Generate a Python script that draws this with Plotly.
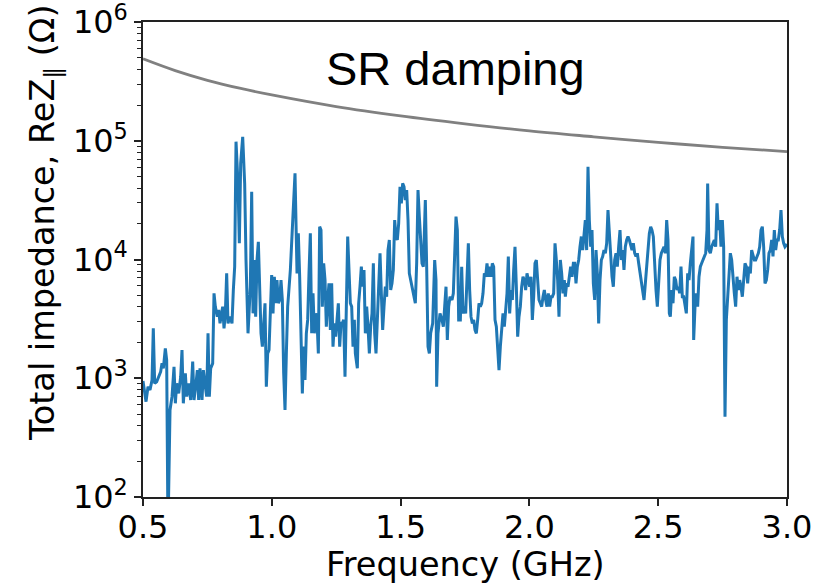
import plotly.graph_objects as go

# Blue curve: total impedance (frequency in GHz, Re Z in Ohm)
freq = [
    0.5, 0.5117, 0.5195, 0.5272, 0.535, 0.540, 0.5453, 0.553, 0.5609, 0.5686, 0.5738, 0.579,
    0.5867, 0.5919, 0.597, 0.6049, 0.6126, 0.6204, 0.6256, 0.6307, 0.6385, 0.6463, 0.6514,
    0.6566, 0.6644, 0.6696, 0.6773, 0.6851, 0.6929, 0.698, 0.7058, 0.711, 0.7161, 0.7213,
    0.7291, 0.7343, 0.742, 0.7472, 0.7524, 0.7575, 0.7627, 0.7705, 0.7757, 0.7808, 0.7886,
    0.7938, 0.799, 0.8041, 0.8093, 0.8145, 0.8197, 0.8248, 0.83, 0.8378, 0.8455, 0.8507,
    0.8559, 0.8611, 0.8688, 0.874, 0.8792, 0.887, 0.8947, 0.8999, 0.9077,
    0.9167, 0.9219, 0.9271, 0.9322, 0.9374, 0.9426, 0.9478, 0.9529, 0.9581, 0.9633, 0.9685,
    0.9736, 0.9788, 0.984, 0.9892, 0.9943, 0.9995, 1.0047, 1.0099, 1.015, 1.0202, 1.0254,
    1.0306, 1.0357, 1.0409, 1.0461, 1.0513, 1.0565, 1.0616, 1.072, 1.0823, 1.0901, 1.0979,
    1.103, 1.1082, 1.1134, 1.1186, 1.1237, 1.1289, 1.1341, 1.1393, 1.1444, 1.1496, 1.1548,
    1.16, 1.1651, 1.1703, 1.1755, 1.1807, 1.1858, 1.191, 1.1962, 1.2014, 1.2066, 1.2117,
    1.2169, 1.2221, 1.2273, 1.2324, 1.2376, 1.2428, 1.248, 1.2531, 1.2583, 1.2635, 1.2687,
    1.2738, 1.279, 1.2842, 1.2894, 1.2946, 1.2997, 1.3049, 1.3101, 1.3153, 1.3204,
    1.3243, 1.3321, 1.3372, 1.3424, 1.3476, 1.3528, 1.3579, 1.3631, 1.3683, 1.3735, 1.3787,
    1.3838, 1.389, 1.3942, 1.3994, 1.4045, 1.4097, 1.4149, 1.4201, 1.4252, 1.4304, 1.4356,
    1.4408, 1.4459, 1.4511, 1.4563, 1.4615, 1.4666, 1.4718, 1.477, 1.4822, 1.4873, 1.4925,
    1.4977, 1.5029, 1.508, 1.5132, 1.5184, 1.5236, 1.5288, 1.5339, 1.5391, 1.5443, 1.5495,
    1.5572, 1.5624, 1.5676, 1.5727, 1.5779, 1.5831, 1.5883, 1.596, 1.6012, 1.6064, 1.6116,
    1.6167, 1.6245, 1.6323, 1.6374, 1.64, 1.6452, 1.653, 1.6607, 1.6659, 1.6711, 1.6763,
    1.6814, 1.6866, 1.6918, 1.6996, 1.7047, 1.7099, 1.7151, 1.7203, 1.7254,
    1.7319, 1.7371, 1.7423, 1.7474, 1.7526, 1.7578, 1.763, 1.7681, 1.7733, 1.7785, 1.7837,
    1.7888, 1.794, 1.7992, 1.8044, 1.8095, 1.8147, 1.8199, 1.8251, 1.8302, 1.8354, 1.8406,
    1.8458, 1.851, 1.8561, 1.8613, 1.8665, 1.8717, 1.8768, 1.882, 1.8872, 1.8924, 1.8975,
    1.9027, 1.9079, 1.9131, 1.9182, 1.9234, 1.9286, 1.9338, 1.9389, 1.9441, 1.9493, 1.9545,
    1.9596, 1.9648, 1.97, 1.9752, 1.9803, 1.9855, 1.9907, 1.9959, 2.001, 2.0062, 2.0114,
    2.0166, 2.0217, 2.0269, 2.0321, 2.0373, 2.0425, 2.0476, 2.0528, 2.058, 2.0632, 2.0683,
    2.0735, 2.0787, 2.0839, 2.089, 2.0942, 2.0994, 2.1046, 2.1097, 2.1149, 2.1201, 2.1253,
    2.1304, 2.1356,
    2.1395, 2.1447, 2.1499, 2.155, 2.1602, 2.1654, 2.1706, 2.1757, 2.1809, 2.1861, 2.1913,
    2.1964, 2.2016, 2.2068, 2.212, 2.2171, 2.2223, 2.2275, 2.2327, 2.2378, 2.243, 2.2482,
    2.2534, 2.2586, 2.2637, 2.2689, 2.2741, 2.2793, 2.2844, 2.2896, 2.2948, 2.3, 2.3051,
    2.3103, 2.3155, 2.3207, 2.3258, 2.331, 2.3362, 2.3414, 2.3465, 2.3517, 2.3569, 2.3621,
    2.3672, 2.3724, 2.3776, 2.3828, 2.3879, 2.3931, 2.3983, 2.4035, 2.4087, 2.4138, 2.419,
    2.4242, 2.4294, 2.4345, 2.4397, 2.4449, 2.4501, 2.4552, 2.4604, 2.4656, 2.4708, 2.4759,
    2.4811, 2.4863, 2.4915, 2.4966, 2.5018, 2.507, 2.5122, 2.5173, 2.5225, 2.5277, 2.5329,
    2.538, 2.5432,
    2.5471, 2.5523, 2.5575, 2.5626, 2.5678, 2.573, 2.5782, 2.5833, 2.5885, 2.5937, 2.5989,
    2.604, 2.6092, 2.6144, 2.6196, 2.6247, 2.6299, 2.6351, 2.6377, 2.6429, 2.648, 2.6532,
    2.6584, 2.6636, 2.6687, 2.6739, 2.6791, 2.6843, 2.6894, 2.692, 2.6972, 2.7024, 2.7076,
    2.7127, 2.7179, 2.7231, 2.7283, 2.7334, 2.7386, 2.7438, 2.749, 2.7541, 2.7567, 2.7593,
    2.7645, 2.7697, 2.7748, 2.78, 2.7852, 2.7904, 2.7955, 2.8007, 2.8059, 2.8111, 2.8163,
    2.8214, 2.8266, 2.8318, 2.837, 2.8421, 2.8473, 2.8525, 2.8577, 2.8628, 2.868, 2.8732,
    2.8784, 2.8835, 2.8887, 2.8939, 2.8991, 2.9042, 2.9094, 2.9146, 2.9198, 2.9249, 2.9301,
    2.9353, 2.9405, 2.9456, 2.9508, 2.956, 2.9612, 2.9663, 2.9715, 2.9767, 2.9819, 2.987,
    2.9922, 2.9974, 3.0,
]
impedance = [
    950, 635, 849, 796, 967, 2630, 906, 935, 1030, 1135, 1335, 1212,
    1785, 1425, 50, 541, 700, 1250, 615, 906, 746, 1030, 1730,
    615, 1100, 700, 906, 656, 1380, 656, 906, 1172, 656, 1212,
    656, 1172, 849, 700, 2390, 700, 1212, 1335, 5190, 4010, 3300,
    3760, 2900, 3300, 4010, 2630, 3520, 7640, 2900, 3300, 2900, 5530,
    8700, 98200, 43700, 13700, 64600, 108000, 43700, 9900, 2390,
    5900, 37200, 3520, 9900, 3300, 9900, 14100, 4280, 2390, 1845, 3100,
    4280, 849, 1620, 1730, 3520, 7400, 3520, 7160, 4280, 6710, 4280,
    4560, 6710, 4560, 1100, 541, 1620, 4010, 8160, 21500, 53200, 7640,
    16600, 7160, 1620, 746, 1845, 967, 2390, 3100, 7640, 16600, 2390,
    5190, 2390, 3520, 3100, 1620, 18900, 17700, 4010, 9290, 6710, 2720,
    4560, 6300, 2550, 6300, 1845, 2900, 2240, 2900, 4280, 1845, 2900,
    2900, 3100, 1030, 5900, 15600, 8160, 4280, 4010, 1845, 3100,
    1620, 1212, 4280, 5900, 8700, 5900, 8160, 2390, 4010, 2720, 1620,
    2720, 3520, 9290, 2390, 1620, 3100, 4560, 11300, 5190, 2550, 4010,
    5900, 4860, 12000, 14600, 5530, 6300, 8160, 21500, 15600, 14600, 20100,
    41000, 29700, 43700, 41000, 31700, 38500, 21500, 7640, 6710, 5900, 5190,
    4280, 9290, 38500, 23000, 12800, 9290, 8700, 31700, 8700, 1845, 1620,
    2390, 2900, 9900, 6710, 849, 2390, 3520, 3100, 2720, 4010, 5900,
    2100, 4010, 4860, 4560, 5190, 11300, 23000, 17700, 3100,
    3100, 8700, 3520, 4010, 3520, 7640, 13700, 5530, 3300, 2900, 3100,
    2550, 2390, 3100, 4280, 4010, 4280, 5190, 7640, 7160, 9290, 7160,
    8700, 7160, 9290, 8700, 3100, 2720, 1845, 1172, 1845, 2720, 3520,
    2720, 3760, 5190, 10600, 3520, 5530, 4560, 8160, 12800, 5900, 2240,
    3300, 4010, 5900, 7160, 6710, 5530, 7640, 6710, 5900, 7160, 3100,
    4860, 9290, 9900, 5900, 4560, 4280, 4010, 4860, 5530, 4560, 4010,
    5190, 4010, 4860, 4860, 5190, 13700, 9900, 6710, 3300, 9900, 7640,
    5190, 6710,
    4860, 6300, 5900, 7160, 8700, 7160, 9290, 9290, 6300, 8700, 9900,
    12800, 15600, 12000, 15600, 21500, 12000, 60500, 21500, 12800, 17700, 6300,
    4560, 12000, 7640, 2900, 6710, 9900, 10600, 12000, 11300, 13700, 26100,
    16600, 9900, 7160, 5900, 9900, 11300, 8700, 12800, 17700, 9900, 12000,
    8160, 12800, 14600, 15600, 14600, 12800, 12000, 13700, 11300, 10600, 11300,
    9290, 7640, 6710, 5530, 4560, 6300, 8700, 12800, 16600, 18900, 17700,
    15600, 8160, 5530, 4010, 5900, 9900, 11300, 12000, 12800, 11300, 21500,
    14600, 3520,
    3300, 5530, 4280, 7160, 6710, 5530, 5900, 5190, 8700, 4860, 4860,
    4010, 3520, 7640, 6710, 9290, 12800, 15600, 2100, 4010, 5190, 4010,
    7160, 8700, 9290, 9900, 10600, 11300, 17700, 43700, 12000, 11300, 12800,
    13700, 14600, 12800, 29700, 17700, 21500, 12800, 21500, 12800, 3100, 475,
    3100, 5190, 7640, 11300, 9900, 6710, 5190, 4010, 7160, 5530, 6710,
    5900, 4860, 6710, 9290, 8700, 6300, 8700, 7640, 12000, 10600, 9900,
    9900, 10600, 11300, 12800, 17700, 18900, 12800, 6300, 6710, 8160, 11300,
    12000, 14600, 10600, 17700, 12000, 14600, 14600, 17700, 26100, 15600, 13700,
    12800, 13200, 13500,
]

# Grey curve: SR damping threshold
sr_freq = [0.5, 0.625, 0.75, 0.875, 1.0, 1.25, 1.5, 1.75, 2.0, 2.25, 2.5, 2.75, 3.0]
sr_imp = [4.9e5, 3.9e5, 3.23e5, 2.77e5, 2.43e5, 1.94e5, 1.62e5, 1.39e5,
          1.21e5, 1.08e5, 9.7e4, 8.8e4, 8.1e4]

x_ticks = [0.5, 1.0, 1.5, 2.0, 2.5, 3.0]
x_ticktext = ["0.5", "1.0", "1.5", "2.0", "2.5", "3.0"]
y_ticks = [1e2, 1e3, 1e4, 1e5, 1e6]
y_ticktext = ["10<sup>2</sup>", "10<sup>3</sup>", "10<sup>4</sup>", "10<sup>5</sup>", "10<sup>6</sup>"]
y_minor = [k * 10 ** d for d in range(2, 6) for k in range(2, 10)]

fig = go.Figure()
fig.add_trace(go.Scatter(x=sr_freq, y=sr_imp, mode="lines", line_shape="spline",
                         line=dict(color="#808080", width=2.8), showlegend=False))
fig.add_trace(go.Scatter(x=freq, y=impedance, mode="lines",
                         line=dict(color="#1f77b4", width=3), showlegend=False))

tick_font = dict(family="DejaVu Sans", size=32, color="black")
title_font = dict(family="DejaVu Sans", size=33.5, color="black")
fig.update_layout(
    width=836, height=584,
    margin=dict(l=143, r=49, t=22, b=87, autoexpand=False),
    paper_bgcolor="white", plot_bgcolor="white",
    xaxis=dict(range=[0.5, 3.0], tickvals=x_ticks, ticktext=x_ticktext,
               ticks="outside", ticklen=7, tickwidth=1.5, tickcolor="#222",
               showline=True, linecolor="#222", linewidth=1.5, mirror=True,
               showgrid=False, zeroline=False, tickfont=tick_font, automargin=False,
               ticklabelstandoff=-6, ticklabeloverflow="allow"),
    yaxis=dict(type="log", range=[2, 6], tickvals=y_ticks, ticktext=y_ticktext,
               ticks="outside", ticklen=7, tickwidth=1.5, tickcolor="#222",
               showline=True, linecolor="#222", linewidth=1.5, mirror=True,
               showgrid=False, zeroline=False, tickfont=tick_font, automargin=False,
               ticklabeloverflow="allow",
               minor=dict(tickvals=y_minor, ticks="outside", ticklen=4,
                          tickwidth=1, tickcolor="#222", showgrid=False)),
    annotations=[
        dict(text="SR damping", xref="paper", yref="paper", x=0.4845, y=0.903,
             xanchor="center", yanchor="middle", showarrow=False,
             font=dict(family="Liberation Sans", size=47, color="black")),
        dict(text="Frequency (GHz)", xref="paper", yref="paper", x=0.5, y=-0.143,
             xanchor="center", yanchor="middle", showarrow=False, font=title_font),
        dict(text="Total impedance, ReZ<sub>∥</sub> (Ω)", xref="paper", yref="paper",
             x=-0.152, y=0.577, xanchor="center", yanchor="middle", textangle=-90,
             showarrow=False, font=title_font),
    ],
)

fig.write_html("out.html")
